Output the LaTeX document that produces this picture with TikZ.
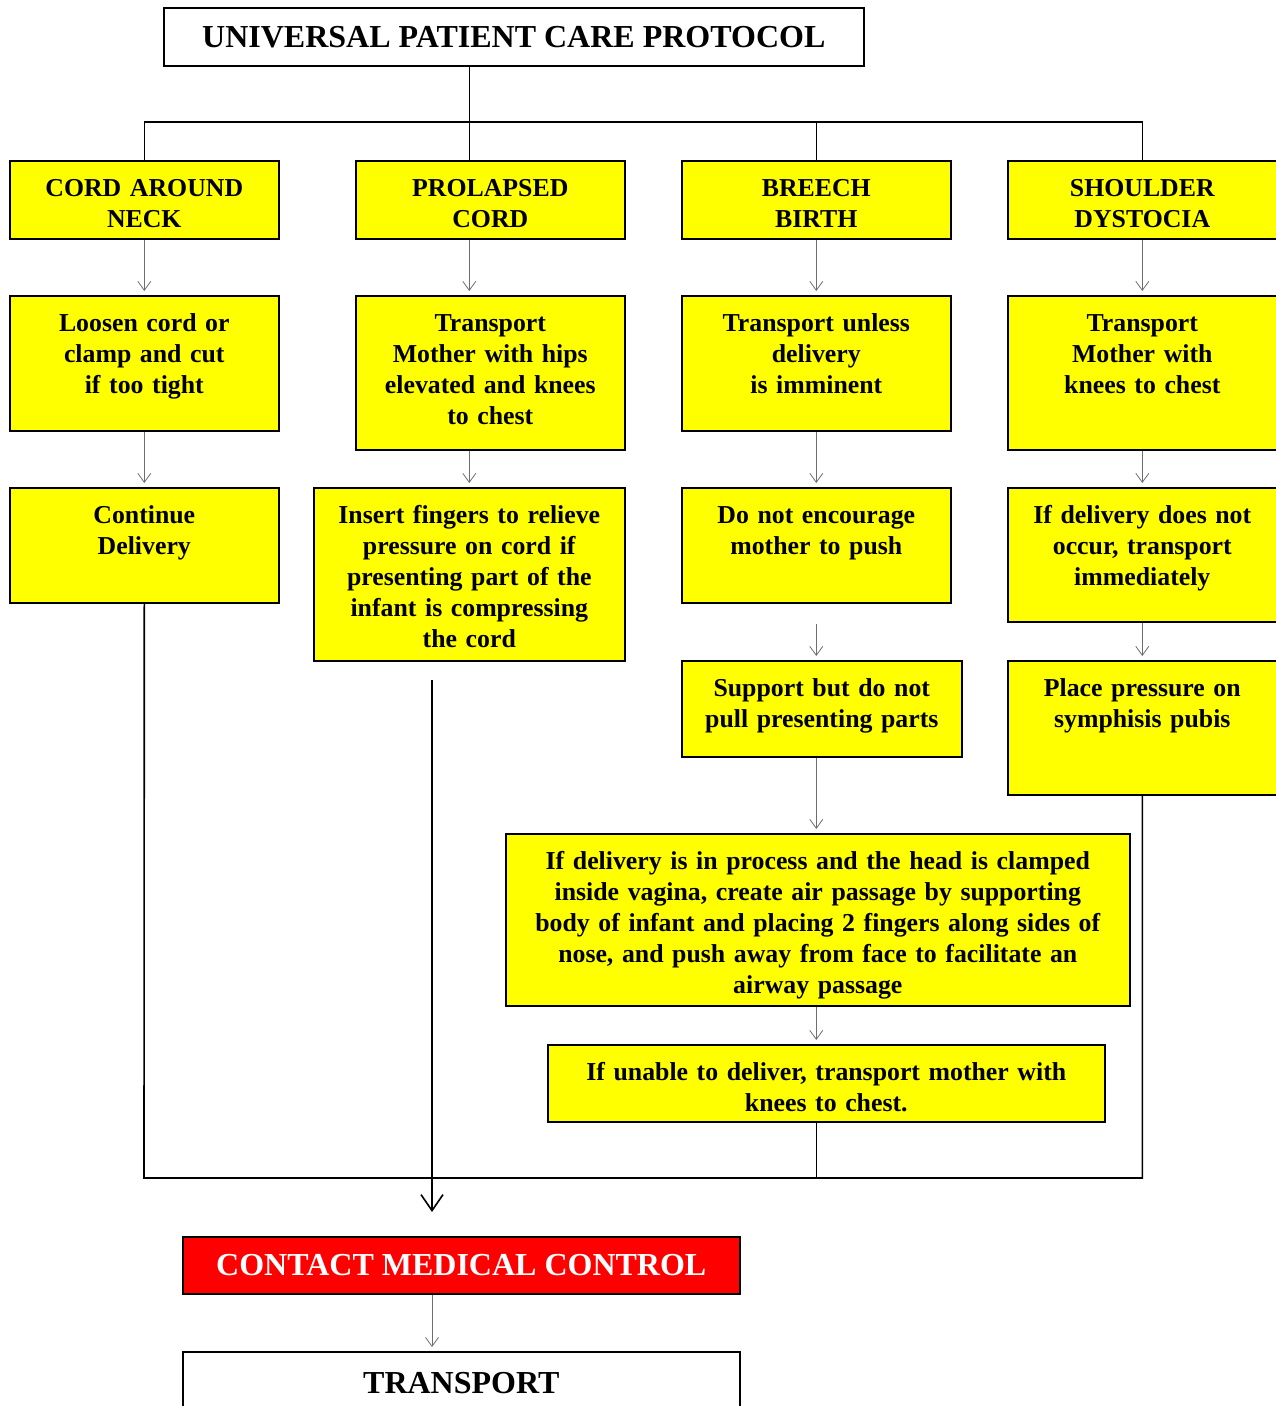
\documentclass[tikz,border=0pt]{standalone}
\usepackage{fontspec}
\setmainfont{Liberation Serif}
\usetikzlibrary{arrows.meta,positioning,calc}
\definecolor{pcYellow}{HTML}{FFFF00}
\definecolor{pcRed}{HTML}{FF0000}
\definecolor{pcGrey}{HTML}{6E6E6E}

\begin{document}
\begin{tikzpicture}[x=1pt, y=-1pt,
  font=\fontsize{25.8}{31}\selectfont\bfseries,
  box/.style={draw, line width=1.6pt, fill=pcYellow, anchor=north west, align=center, inner sep=0pt, text width=269pt, text height=36pt, text depth=42pt},
  plain/.style={draw, line width=1.6pt, anchor=north west, align=center, inner sep=0pt, font=\fontsize{32}{38}\selectfont\bfseries},
  bus/.style={line width=1.6pt},
  stp/.style={draw=pcGrey, line width=0.8pt, -{Straight Barb[length=9pt,width=13pt]}, shorten >=4pt},
  drop/.style={line width=1.6pt, -{Straight Barb[length=16pt,width=22pt]}}]
\useasboundingbox (0,0) rectangle (1275,1406);
% title and the four cases
\node[plain, minimum width=700pt, minimum height=58pt] (title) at (163,7) {UNIVERSAL PATIENT CARE PROTOCOL};
\node[box] (neck) at (9,160) {CORD AROUND\\NECK};
\node[box] (prolapsed) at (355,160) {PROLAPSED\\CORD};
\node[box] (breech) at (681,160) {BREECH\\BIRTH};
\node[box] (shoulder) at (1007,160) {SHOULDER\\DYSTOCIA};
% second row
\node[box, text depth=99pt] (loosen) at (9,295) {Loosen cord or\\clamp and cut\\if too tight};
\node[box, text depth=118pt] (hips) at (355,295) {Transport\\Mother with hips\\elevated and knees\\to chest};
\node[box, text depth=99pt] (unless) at (681,295) {Transport unless\\delivery\\is imminent};
\node[box, text depth=118pt] (knees) at (1007,295) {Transport\\Mother with\\knees to chest};
% third row
\node[box, text depth=79pt] (cont) at (9,487) {Continue\\Delivery};
\node[box, text width=311pt, text depth=137pt] (fingers) at (313,487) {Insert fingers to relieve\\pressure on cord if\\presenting part of the\\infant is compressing\\the cord};
\node[box, text depth=79pt] (encourage) at (681,487) {Do not encourage\\mother to push};
\node[box, text depth=98pt] (occur) at (1007,487) {If delivery does not\\occur, transport\\immediately};
% fourth row
\node[box, text width=280pt, text depth=60pt] (support) at (681,660) {Support but do not\\pull presenting parts};
\node[box, text depth=98pt] (pubis) at (1007,660) {Place pressure on\\symphisis pubis};
\node[box, text width=624pt, text depth=136pt] (airway) at (505,833) {If delivery is in process and the head is clamped\\inside vagina, create air passage by supporting\\body of infant and placing 2 fingers along sides of\\nose, and push away from face to facilitate an\\airway passage};
\node[box, text width=557pt, text depth=41pt] (unable) at (547,1044) {If unable to deliver, transport mother with\\knees to chest.};
% end of protocol
\node[plain, fill=pcRed, text=white, minimum width=557pt, minimum height=57pt] (contact) at (182,1236) {CONTACT MEDICAL CONTROL};
\node[plain, minimum width=557pt, minimum height=62pt] (transport) at (182,1351) {TRANSPORT};
\coordinate (bottom) at (144,1178);
\coordinate (dropA) at (432,680);

% top bus
\draw[bus] (title.south -| fingers) -- (prolapsed.north -| fingers);
\draw[bus] (neck.north) -- ++(0,-38) -| (shoulder.north);
\draw[bus] (breech.north) -- ++(0,-38);
% steps down each column
\draw[stp] (neck) -- (loosen);
\draw[stp] (loosen) -- (cont);
\draw[stp] (prolapsed.south -| fingers) -- (hips.north -| fingers);
\draw[stp] (hips.south -| fingers) -- (fingers);
\draw[stp] (breech) -- (unless);
\draw[stp] (unless) -- (encourage);
\draw[stp, shorten <=20pt] (encourage.south) -- (support.north -| encourage);
\draw[stp] (support.south -| breech) -- (airway.north -| breech);
\draw[stp] (airway.south -| breech) -- (unable.north -| breech);
\draw[stp] (shoulder) -- (knees);
\draw[stp] (knees) -- (occur);
\draw[stp] (occur) -- (pubis);
% bottom bus
\draw[bus] (cont.south) -- (bottom) -| (pubis.south);
\draw[bus] (unable.south -| breech) -- (bottom -| breech);
\draw[drop] (dropA) -- ($(contact.north -| dropA)+(0,-24)$);
\draw[stp] (contact.south -| dropA) -- (transport.north -| dropA);
\end{tikzpicture}
\end{document}
